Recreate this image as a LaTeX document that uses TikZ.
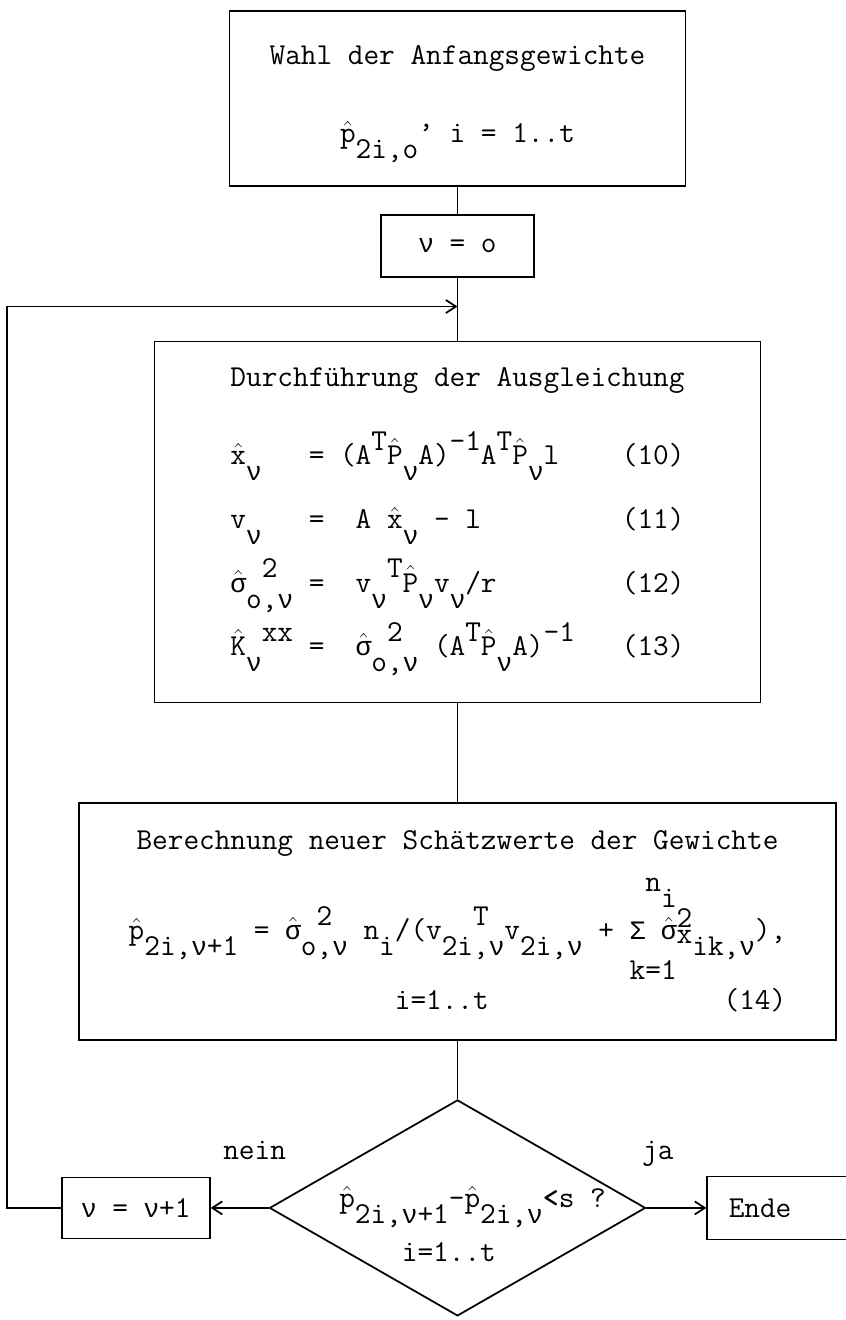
\documentclass[tikz,border=0pt]{standalone}
\usepackage{fontspec}
\newfontfamily\grkfont{Liberation Mono}[Scale=0.875]
\usepackage{tikz}
\usetikzlibrary{arrows.meta,positioning,shapes.geometric,calc}

% typewriter half-line shifts
\newcommand{\tdn}[1]{\raisebox{-0.52em}{#1}}
\newcommand{\tup}[1]{\raisebox{0.48em}{#1}}
\newcommand{\hatc}[1]{\ensuremath{\hat{\hbox{#1}}}}
\newcommand{\cols}[1]{\hspace*{#1\fontcharwd\font`\x}}
% greek letters in one typewriter cell
\newcommand{\gk}[1]{\makebox[\fontcharwd\font`\x]{\grkfont #1}}
\newcommand{\gnu}{\gk{ν}}
\newcommand{\gsig}{\gk{σ}}
\newcommand{\twfont}{\fontsize{17.3}{20}\selectfont\ttfamily\lineskiplimit=-100pt\relax}

\begin{document}
\begin{tikzpicture}[node distance=5mm, every node/.style={font=\twfont,align=center}, box/.style={draw,line width=1pt,inner sep=0pt}, decision/.style={draw,line width=1pt,diamond,inner sep=0pt,minimum width=75.2mm,minimum height=43.2mm}, line/.style={line width=1pt}, arr/.style={-{Straight Barb[length=2mm,width=2.6mm]},line width=1pt}]
  \useasboundingbox (0,0) rectangle (169.2mm,-264mm);
  \node[box,minimum width=91.2mm,minimum height=35mm,anchor=north] (init) at (91.5mm,-2mm)
    {\rule{0pt}{6.1mm}Wahl der Anfangsgewichte\\[24.2pt]\hatc{p}\tdn{2i,o}\tup{,}~i~=~1..t};
  \node[box,minimum width=30.6mm,minimum height=12.4mm,below=5.4mm of init] (nu0) {\gnu~=~o};
  \coordinate[below=5.8mm of nu0] (join);
  \node[box,minimum width=121.2mm,minimum height=72.2mm,below=12.6mm of nu0] (algo)
    {Durchführung der Ausgleichung\\[24.4pt]
     \hatc{x}\tdn{\gnu}~~~=~(A\tup{T}\hatc{P}\tdn{\gnu}A)\tup{-1}A\tup{T}\hatc{P}\tdn{\gnu}l~~~~(10)\\[16.25pt]
     v\tdn{\gnu}~~~=~~A~\hatc{x}\tdn{\gnu}~-~l\cols{9}(11)\\[16.25pt]
     \hatc{\gsig}\rlap{\tup{~2}}\tdn{o,\gnu}~=~~v\tdn{\gnu}\tup{T}\hatc{P}\tdn{\gnu}v\tdn{\gnu}/r\cols{8}(12)\\[16.25pt]
     \hatc{K}\tdn{\gnu}\tup{xx}~=~~\hatc{\gsig}\rlap{\tup{~2}}\tdn{o,\gnu}~(A\tup{T}\hatc{P}\tdn{\gnu}A)\tup{-1}~~~(13)};
  \node[box,minimum width=151.4mm,minimum height=47.4mm,below=19.8mm of algo] (update)
    {Berechnung neuer Schätzwerte der Gewichte\\[31.2pt]
     \hatc{p}\tdn{2i,\gnu+1}~=~\hatc{\gsig}\rlap{\tup{~2}}\tdn{o,\gnu}~n\tdn{i}/(v\rlap{\tup{~~T}}\tdn{2i,\gnu}v\tdn{2i,\gnu}~+~\rlap{\raisebox{1.6em}{~n\tdn{i}}}\rlap{\raisebox{-1.3em}{k=1}}\gk{Σ}~\hatc{\gsig}\rlap{\raisebox{0.4em}{2}}\raisebox{-0.13em}{x}\tdn{ik,\gnu}),\\[19.8pt]
     \cols{17}i=1..t\cols{15}(14)};
  \node[decision,below=11.6mm of update] (cond) {};
  \node[align=left] (condtxt) at ($(cond.center)+(3mm,-3.2mm)$)
    {\hatc{p}\tdn{2i,\gnu+1}-\hatc{p}\tdn{2i,\gnu}\textbf{<}s~?\\[10.7pt]\cols{4}i=1..t};
  \node[box,minimum width=29.6mm,minimum height=12.2mm,left=11.6mm of cond] (nu1) {\gnu~=~\gnu+1};
  \node[box,minimum height=12.6mm,inner xsep=4.3mm,text width=25.4mm,align=left,right=12mm of cond] (ende) {Ende};
  \node[anchor=base] (nein) at ($(cond.west)+(-2.8mm,9.6mm)$) {nein};
  \node[anchor=base] (ja) at ($(cond.east)+(2.3mm,9.6mm)$) {ja};

  \draw[line] (init.south) -- (nu0.north);
  \draw[line] (nu0.south) -- (algo.north);
  \draw[line] (algo.south) -- (update.north);
  \draw[line] (update.south) -- (cond.north);
  \draw[arr] (cond.west) -- (nu1.east);
  \draw[arr] (cond.east) -- (ende.west);
  \draw[arr] (nu1.west) -- ++(-10.8mm,0) |- (join);
\end{tikzpicture}
\end{document}
